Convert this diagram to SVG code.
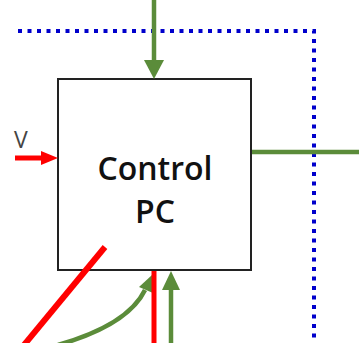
<svg xmlns="http://www.w3.org/2000/svg" width="359" height="343" viewBox="0 0 359 343">
<style>
.green{stroke:#5b8c3a;fill:none;stroke-width:4.5}
.gh{fill:#5b8c3a;stroke:none}
.red{stroke:#ff0000;fill:none;stroke-width:5}
.rh{fill:#ff0000;stroke:none}
.dot{stroke:#0000cc;fill:none;stroke-width:4;stroke-dasharray:4 5.5}
.box{fill:#ffffff;stroke:#222222;stroke-width:2}
.lbl{font-family:"Open Sans","Liberation Sans",sans-serif;font-size:32px;font-weight:600;fill:#111111;text-anchor:middle}
.v{font-family:"Open Sans","Liberation Sans",sans-serif;font-size:23px;fill:#444444}
</style>
<g id="boundary">
<path class="dot" d="M18,31 H314 V343"/>
</g>
<g id="control-pc">
<rect class="box" x="58" y="79" width="193" height="191"/>
<text class="lbl" x="155" y="180">Control</text>
<text class="lbl" x="155" y="223">PC</text>
</g>
<g id="v-label">
<text class="v" x="14" y="148">V</text>
</g>
<g id="connectors">
<line class="green" x1="154" y1="0" x2="154" y2="62"/>
<polygon class="gh" points="144,60 164,60 154,79"/>
<line class="green" x1="252" y1="152" x2="359" y2="152"/>
<line class="red" x1="15" y1="158" x2="45" y2="158"/>
<polygon class="rh" points="41,151 41,165 58,158"/>
<line class="green" x1="171" y1="343" x2="171" y2="288"/>
<polygon class="gh" points="171,271 162,290 180,290"/>
<path class="green" d="M58,345 Q128,325 145,290"/>
<polygon class="gh" points="152,275 139,287 153,293"/>
<line class="red" x1="154" y1="271" x2="154" y2="343"/>
<line class="red" x1="105" y1="247" x2="24" y2="345" style="stroke-width:6"/>
</g>
</svg>
